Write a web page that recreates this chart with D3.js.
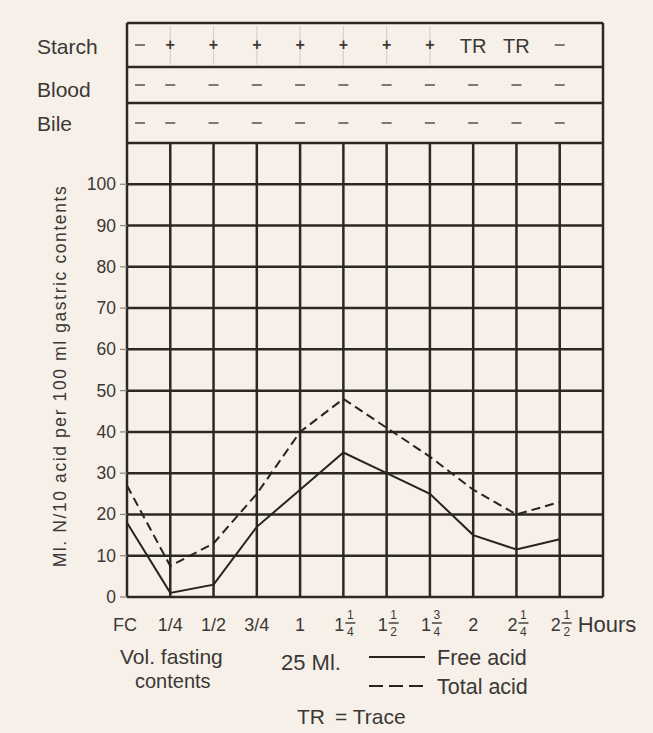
<!DOCTYPE html>
<html>
<head>
<meta charset="utf-8">
<script src="https://cdn.jsdelivr.net/npm/d3@7"></script>
<style>
  html, body { margin: 0; padding: 0; background: #f7f0e8; }
  svg { display: block; font-family: "Liberation Sans", Arial, sans-serif; }
</style>
</head>
<body>
<svg id="chart" width="653" height="733"></svg>
<script>
// Sampling times (hours after test meal); "a b/c" marks a mixed fraction
const categories = ["FC", "1/4", "1/2", "3/4", "1", "1 1/4", "1 1/2", "1 3/4", "2", "2 1/4", "2 1/2"];
// Ml. N/10 acid per 100 ml gastric contents
const freeAcid  = [18, 1, 3, 17, 26, 35, 30, 25, 15, 11.5, 14];
const totalAcid = [27, 7.5, 13, 25, 40, 48, 41, 34, 26, 20, 23];
// Qualitative tests per sample
const starch = ["−", "+", "+", "+", "+", "+", "+", "+", "TR", "TR", "−"];
const blood  = ["−", "−", "−", "−", "−", "−", "−", "−", "−", "−", "−"];
const bile   = ["−", "−", "−", "−", "−", "−", "−", "−", "−", "−", "−"];
const yTicks = [0, 10, 20, 30, 40, 50, 60, 70, 80, 90, 100];

const ink = "#2c2824";
const textCol = "#3a3836";
const svg = d3.select("#chart");

// one extra empty column after the last sample
const x = d3.scaleLinear().domain([0, categories.length]).range([127, 603]);
const y = d3.scaleLinear().domain([0, 110]).range([597, 143]);

// ---- test table above the graph ----
const rows = [
  { name: "Starch", vals: starch, top: 23, bottom: 67, base: 54 },
  { name: "Blood",  vals: blood,  top: 67, bottom: 103, base: 97 },
  { name: "Bile",   vals: bile,   top: 103, bottom: 143, base: 131 }
];
const table = svg.append("g");
rows.forEach(r => {
  const cy = (r.top + r.bottom) / 2;
  table.append("text")
    .attr("x", 37).attr("y", r.base)
    .attr("font-size", 21).attr("fill", textCol)
    .text(r.name);
  r.vals.forEach((v, i) => {
    const cx = i === 0 ? x(0) + 13 : x(i);
    if (v === "+") {
      // faint guide under each positive mark
      table.append("line")
        .attr("x1", cx).attr("x2", cx).attr("y1", r.top + 3).attr("y2", r.bottom - 2)
        .attr("stroke", "#d9d1c6").attr("stroke-width", 1.2);
      table.append("text")
        .attr("x", cx).attr("y", cy + 5).attr("text-anchor", "middle")
        .attr("font-size", 16).attr("font-weight", "bold").attr("fill", "#3c3936")
        .text("+");
    } else if (v === "TR") {
      table.append("text")
        .attr("x", cx).attr("y", cy + 8).attr("text-anchor", "middle")
        .attr("font-size", 20).attr("fill", textCol)
        .text("TR");
    } else {
      table.append("line")
        .attr("x1", cx - 5).attr("x2", cx + 5).attr("y1", cy).attr("y2", cy)
        .attr("stroke", "#7d7874").attr("stroke-width", 2);
    }
  });
});
rows.forEach(r => {
  table.append("line")
    .attr("x1", x(0)).attr("x2", x(categories.length))
    .attr("y1", r.top).attr("y2", r.top)
    .attr("stroke", ink).attr("stroke-width", 2.5);
});

// ---- grid ----
const grid = svg.append("g");
grid.selectAll("line.h")
  .data(yTicks.concat([110]))
  .join("line")
  .attr("x1", x(0)).attr("x2", x(categories.length))
  .attr("y1", d => y(d)).attr("y2", d => y(d))
  .attr("stroke", ink).attr("stroke-width", 2.5);
grid.selectAll("line.v")
  .data(d3.range(1, categories.length))
  .join("line")
  .attr("x1", d => x(d)).attr("x2", d => x(d))
  .attr("y1", y(110)).attr("y2", y(0))
  .attr("stroke", ink).attr("stroke-width", 2.5);
// outer frame sides run through table and graph
[0, categories.length].forEach(i => {
  grid.append("line")
    .attr("x1", x(i)).attr("x2", x(i)).attr("y1", 23).attr("y2", y(0))
    .attr("stroke", ink).attr("stroke-width", 2.5);
});

// ---- y axis: short ticks and labels ----
const ya = svg.append("g");
ya.selectAll("line")
  .data(yTicks)
  .join("line")
  .attr("x1", x(0) - 7).attr("x2", x(0))
  .attr("y1", d => y(d)).attr("y2", d => y(d))
  .attr("stroke", "#8a8480").attr("stroke-width", 1.2);
ya.selectAll("text")
  .data(yTicks)
  .join("text")
  .attr("x", 116).attr("y", d => y(d) + 6)
  .attr("text-anchor", "end")
  .attr("font-size", 17.5).attr("fill", textCol)
  .text(d => d);

svg.append("text")
  .attr("transform", "translate(66,376) rotate(-90)")
  .attr("text-anchor", "middle")
  .attr("font-size", 17.5).attr("letter-spacing", 1.6).attr("fill", textCol)
  .text("Ml. N/10 acid per 100 ml gastric contents");

// ---- x axis labels ----
const xl = svg.append("g").attr("fill", textCol);
categories.forEach((c, i) => {
  const cx = x(i) - (i === 0 ? 2 : 0);
  const base = 631;
  const parts = c.split(" ");
  if (parts.length === 1) {
    xl.append("text")
      .attr("x", cx).attr("y", base).attr("text-anchor", "middle")
      .attr("font-size", 18).text(c);
  } else {
    const [num, den] = parts[1].split("/");
    xl.append("text")
      .attr("x", cx - 4).attr("y", base).attr("text-anchor", "middle")
      .attr("font-size", 18).text(parts[0]);
    xl.append("text")
      .attr("x", cx + 7).attr("y", base - 12).attr("text-anchor", "middle")
      .attr("font-size", 12).text(num);
    xl.append("line")
      .attr("x1", cx + 2).attr("x2", cx + 12)
      .attr("y1", base - 8).attr("y2", base - 8)
      .attr("stroke", textCol).attr("stroke-width", 1.4);
    xl.append("text")
      .attr("x", cx + 7).attr("y", base + 5).attr("text-anchor", "middle")
      .attr("font-size", 12).text(den);
  }
});
xl.append("text")
  .attr("x", 607).attr("y", 632).attr("text-anchor", "middle")
  .attr("font-size", 22).text("Hours");

// ---- acid curves ----
const line = d3.line().x((d, i) => x(i)).y(d => y(d));
svg.append("path")
  .datum(totalAcid)
  .attr("d", line)
  .attr("fill", "none").attr("stroke", "#262320")
  .attr("stroke-width", 2).attr("stroke-dasharray", "9,5");
svg.append("path")
  .datum(freeAcid)
  .attr("d", line)
  .attr("fill", "none").attr("stroke", "#262320")
  .attr("stroke-width", 2);

// ---- notes and legend ----
const notes = svg.append("g").attr("fill", textCol);
notes.append("text").attr("x", 120).attr("y", 664).attr("font-size", 21).text("Vol. fasting");
notes.append("text").attr("x", 135).attr("y", 688).attr("font-size", 20).text("contents");
notes.append("text").attr("x", 281).attr("y", 670).attr("font-size", 22).text("25 Ml.");
notes.append("text").attr("x", 437).attr("y", 665).attr("font-size", 21.5).text("Free acid");
notes.append("text").attr("x", 437).attr("y", 694).attr("font-size", 21.5).text("Total acid");
const tr = notes.append("text").attr("x", 297).attr("y", 724).attr("font-size", 21);
tr.append("tspan").text("TR");
tr.append("tspan").attr("dx", 10).text("= Trace");
svg.append("line")
  .attr("x1", 369).attr("x2", 425).attr("y1", 657).attr("y2", 657)
  .attr("stroke", "#262320").attr("stroke-width", 2.2);
svg.append("line")
  .attr("x1", 369).attr("x2", 425).attr("y1", 686).attr("y2", 686)
  .attr("stroke", "#262320").attr("stroke-width", 2.2).attr("stroke-dasharray", "14,6");
</script>
</body>
</html>
